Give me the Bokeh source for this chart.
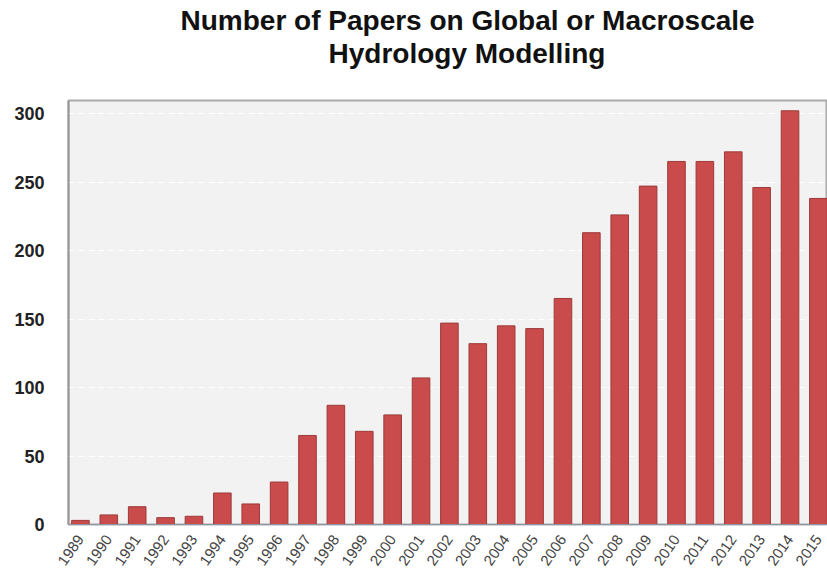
from bokeh.plotting import figure
from bokeh.models import Range1d, FixedTicker, Title, ColumnDataSource
from bokeh.embed import file_html
from bokeh.resources import INLINE
import math

years = list(range(1989, 2016))
papers = [3, 7, 13, 5, 6, 23, 15, 31, 65, 87, 68, 80, 107, 147, 132, 145, 143, 165,
          213, 226, 247, 265, 265, 272, 246, 302, 238]
y_ticks = [0, 50, 100, 150, 200, 250, 300]
title_lines = ["Number of Papers on Global or Macroscale", "Hydrology Modelling"]

src = ColumnDataSource(data=dict(year=years, papers=papers))

p = figure(width=827, height=573, output_backend="svg", toolbar_location=None,
           x_range=Range1d(1988.58, 2015.32), y_range=Range1d(0, 309.5),
           min_border_left=68, min_border_right=0, min_border_top=100, min_border_bottom=49)

p.background_fill_color = "#f2f2f2"
p.border_fill_color = "white"
p.outline_line_color = "#aaaaaa"
p.outline_line_width = 2

p.vbar(x="year", top="papers", width=0.62, source=src,
       fill_color="#c94b4b", line_color="#9e3a3a", line_width=1)

p.xgrid.grid_line_color = None
p.ygrid.grid_line_color = "white"
p.ygrid.grid_line_dash = "6 4"
p.ygrid.grid_line_width = 1
p.ygrid.ticker = FixedTicker(ticks=y_ticks)

p.yaxis.ticker = FixedTicker(ticks=y_ticks)
p.yaxis.major_tick_line_color = None
p.yaxis.minor_tick_line_color = None
p.yaxis.axis_line_color = "#999999"
p.yaxis.axis_line_width = 2
p.yaxis.major_label_text_font = "Liberation Sans"
p.yaxis.major_label_text_font_style = "bold"
p.yaxis.major_label_text_font_size = "18px"
p.yaxis.major_label_text_color = "#222222"
p.yaxis.major_label_standoff = 18

p.xaxis.ticker = FixedTicker(ticks=years)
p.xaxis.major_tick_line_color = None
p.xaxis.minor_tick_line_color = None
p.xaxis.axis_line_color = "#8a95a5"
p.xaxis.axis_line_width = 1
p.xaxis.major_label_orientation = math.radians(55)
p.xaxis.major_label_text_font = "Liberation Sans"
p.xaxis.major_label_text_font_size = "15px"
p.xaxis.major_label_text_color = "#444444"
p.xaxis.major_label_standoff = 6

# invisible spacer between the frame and the two title lines
p.add_layout(Title(text=" ", standoff=0, text_font_size="27px"), "above")

offsets = [112, 260]
for i in [1, 0]:
    p.add_layout(Title(text=title_lines[i], align="left", offset=offsets[i],
                       standoff=0,
                       text_font="Liberation Sans", text_font_style="bold",
                       text_font_size="28px", text_color="#111111"), "above")

open("out.html", "w").write(file_html(p, INLINE))
